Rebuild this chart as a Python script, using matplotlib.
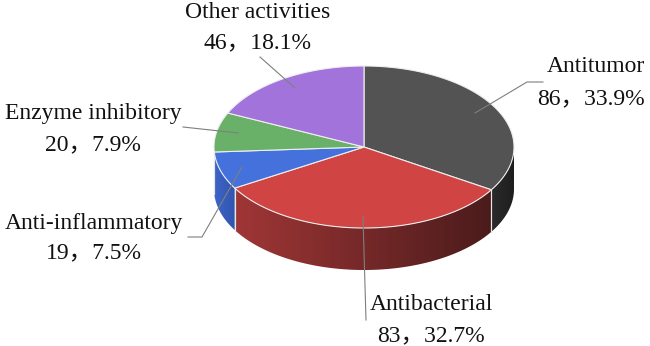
import numpy as np
import matplotlib
matplotlib.use("Agg")
import matplotlib.pyplot as plt
from matplotlib.patches import Polygon
from matplotlib.colors import LinearSegmentedColormap

# ---- data ----
categories = ["Antitumor", "Antibacterial", "Anti-inflammatory", "Enzyme inhibitory", "Other activities"]
counts = [86, 83, 19, 20, 46]
percents = [33.9, 32.7, 7.5, 7.9, 18.1]

# ---- style ----
top_colors = ["#535353", "#d04444", "#4471dc", "#69b069", "#a274db"]
side_left = ["#2b2b2b", "#a03636", "#3d64c8", "#4f8f4f", "#7d55b0"]
side_right = ["#1e1e1e", "#4b1b1b", "#3256ae", "#4f8f4f", "#7d55b0"]

FONT = ["Liberation Serif", "Noto Sans CJK SC"]
FS = 17

fig = plt.figure(figsize=(6.5, 3.46), dpi=100)
ax = fig.add_axes([0, 0, 1, 1])
ax.set_xlim(0, 650)
ax.set_ylim(346, 0)
ax.axis("off")

cx, cy, rx, ry, depth = 364, 147, 150, 81, 42

frac = np.array(counts) / np.sum(counts)
bounds = 90 - 360 * np.concatenate([[0], np.cumsum(frac)])


def arc(t0, t1, n=120, dy=0):
    t = np.radians(np.linspace(t0, t1, n))
    return np.column_stack([cx + rx * np.cos(t), cy - ry * np.sin(t) + dy])


# side walls
for i in range(len(counts)):
    s, e = bounds[i], bounds[i + 1]
    lo, hi = max(e, -180), min(s, 0)
    if hi <= lo:
        continue
    top = arc(lo, hi)
    bot = arc(hi, lo, dy=depth)
    pts = np.vstack([top, bot])
    poly = Polygon(pts, closed=True, facecolor="none", edgecolor="none")
    ax.add_patch(poly)
    x0, x1 = pts[:, 0].min(), pts[:, 0].max()
    y0, y1 = pts[:, 1].min(), pts[:, 1].max()
    cmap = LinearSegmentedColormap.from_list("g%d" % i, [side_left[i], side_right[i]])
    grad = np.linspace(0, 1, 256).reshape(1, -1)
    im = ax.imshow(grad, cmap=cmap, extent=(x0, x1, y1, y0), aspect="auto", zorder=1)
    im.set_clip_path(poly)
    # separators
    for a in (lo, hi):
        if a not in (-180, 0):
            xa = cx + rx * np.cos(np.radians(a))
            ya = cy - ry * np.sin(np.radians(a))
            ax.plot([xa, xa], [ya, ya + depth], color="#e6e6e6", lw=0.8, zorder=2)

# top faces
for i in range(len(counts)):
    s, e = bounds[i], bounds[i + 1]
    pts = np.vstack([[cx, cy], arc(s, e)])
    ax.add_patch(Polygon(pts, closed=True, facecolor=top_colors[i],
                         edgecolor="#eeeeee", lw=0.8, zorder=3))

ax.set_xlim(0, 650)
ax.set_ylim(346, 0)

# labels
labels = [f"{c}，{p:.1f}%" for c, p in zip(counts, percents)]
lab_pos = {
    "Antitumor": (645, 67, 99, "right"),
    "Antibacterial": (431, 305, 336, "center"),
    "Anti-inflammatory": (94, 223, 253, "center"),
    "Enzyme inhibitory": (93, 113, 145, "center"),
    "Other activities": (258, 12, 43, "center"),
}
for name, lab in zip(categories, labels):
    x, y1, y2, ha = lab_pos[name]
    ax.text(x, y1, name, ha=ha, va="center", fontsize=FS, family=FONT, color="#111111")
    ax.text(x, y2, lab, ha=ha, va="center", fontsize=FS, family=FONT, color="#111111")

# leader lines
leaders = [
    [(260, 57), (295, 88)],
    [(543, 82), (527, 82), (475, 113)],
    [(183, 127), (238, 133)],
    [(188, 237), (202, 237), (242, 167)],
    [(366, 320), (363, 217)],
]
for ln in leaders:
    xs, ys = zip(*ln)
    ax.plot(xs, ys, color="#7f7f7f", lw=0.8, zorder=4)

fig.savefig("out.png", dpi=100)
